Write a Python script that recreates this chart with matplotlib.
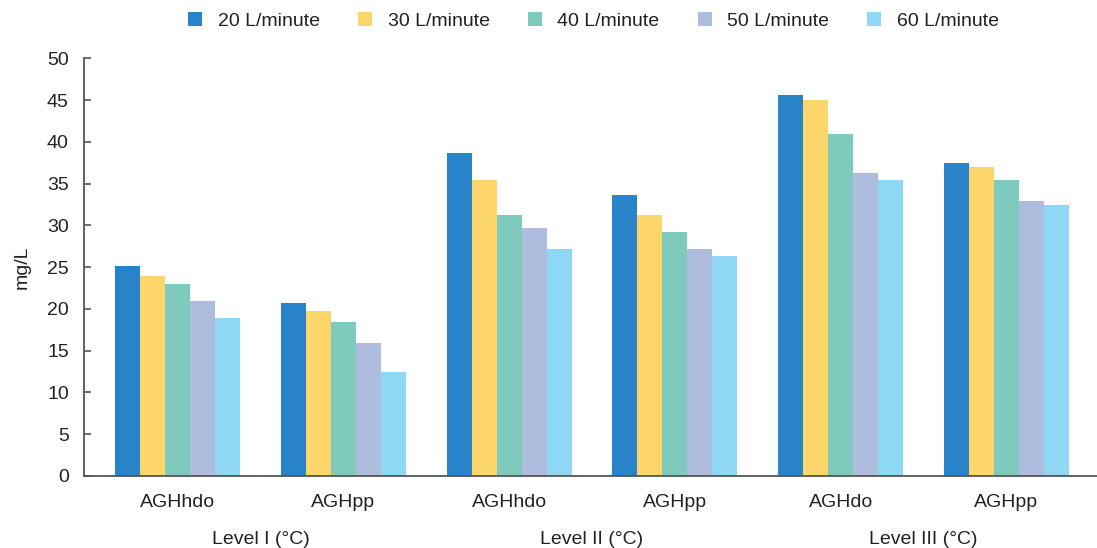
import matplotlib
matplotlib.use('Agg')
import matplotlib.pyplot as plt
import numpy as np

plt.rcParams['font.family'] = ['Liberation Sans', 'DejaVu Sans']

groups = ['AGHhdo', 'AGHpp', 'AGHhdo', 'AGHpp', 'AGHdo', 'AGHpp']
levels = ['Level I (\u00b0C)', 'Level II (\u00b0C)', 'Level III (\u00b0C)']
flows = ['20 L/minute', '30 L/minute', '40 L/minute', '50 L/minute', '60 L/minute']
v20 = [25.1, 20.7, 38.7, 33.6, 45.6, 37.5]
v30 = [24.0, 19.7, 35.5, 31.3, 45.0, 37.0]
v40 = [23.0, 18.4, 31.3, 29.2, 40.9, 35.5]
v50 = [21.0, 15.9, 29.7, 27.2, 36.3, 32.9]
v60 = [18.9, 12.5, 27.2, 26.4, 35.5, 32.4]
colors = ['#2883C8', '#FDD66B', '#7ECBBE', '#AEBDDE', '#8FD8F5']

series = [v20, v30, v40, v50, v60]
x = np.arange(len(groups))
w = 0.151

fig = plt.figure(figsize=(10.97, 5.48), dpi=100)
ax = fig.add_axes([0.0766, 0.1314, 0.9234, 0.762])

for i, vals in enumerate(series):
    ax.bar(x + (i - 2) * w, vals, width=w, color=colors[i], label=flows[i], zorder=1)

ax.set_xlim(-0.564, 5.546)
ax.set_ylim(0, 50)
ax.set_yticks(np.arange(0, 51, 5))
ax.set_xticks(x)
ax.set_xticklabels(groups)
ax.tick_params(axis='y', direction='in', length=5, width=1.2, color='#555555',
               pad=11, labelsize=14, labelcolor='#222222')
ax.tick_params(axis='x', length=0, pad=13, labelsize=14, labelcolor='#222222')
for s in ['top', 'right']:
    ax.spines[s].set_visible(False)
for s in ['left', 'bottom']:
    ax.spines[s].set_color('#555555')
    ax.spines[s].set_linewidth(1.3)
ax.set_ylabel('mg/L', fontsize=14, color='#222222', labelpad=12)

for j, lv in enumerate(levels):
    ax.text(2 * j + 0.5, -0.152, lv, transform=ax.get_xaxis_transform(),
            ha='center', va='center', fontsize=14, color='#222222')

ax.legend(ncol=5, loc='center', bbox_to_anchor=(0.503, 1.0 + (58.3 - 21) / 417.7),
          frameon=False, fontsize=14, handlelength=0.72, handleheight=0.72,
          handletextpad=0.8, columnspacing=1.96, labelcolor='#222222')

plt.savefig('out.png', dpi=100)
